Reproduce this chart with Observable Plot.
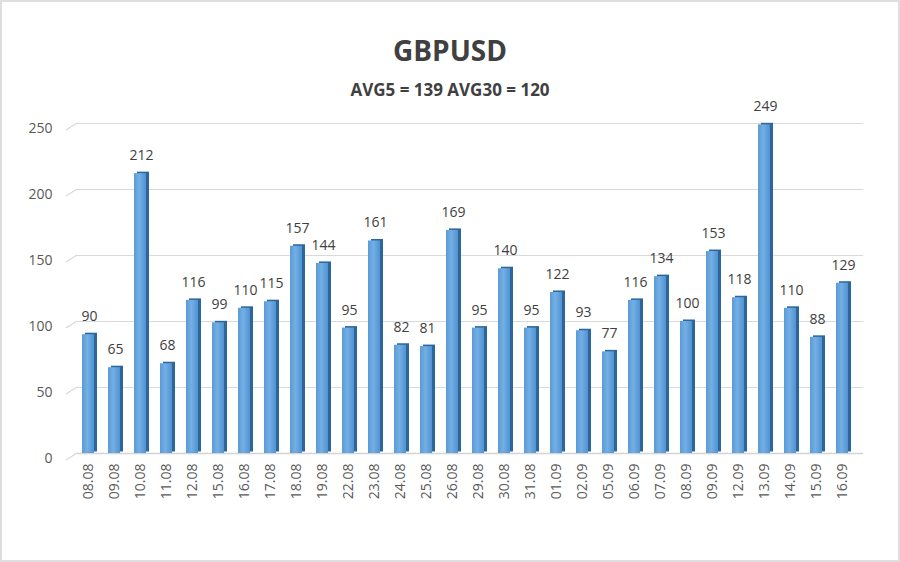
<!DOCTYPE html>
<html>
<head>
<meta charset="utf-8">
<script src="https://cdn.jsdelivr.net/npm/d3@7"></script>
<script src="https://cdn.jsdelivr.net/npm/@observablehq/plot@0.6"></script>
<style>
  html, body { margin: 0; padding: 0; background: #fff; }
  #wrap { position: relative; width: 900px; height: 562px; overflow: hidden; font-family: "Open Sans", sans-serif; }
  #chart { position: absolute; left: 0; top: 0; }
  #title { position: absolute; left: 0; width: 900px; top: 30px; text-align: center; font-size: 28px; font-weight: 700; color: #404040; line-height: 40px; }
  #subtitle { position: absolute; left: 0; width: 900px; top: 78px; text-align: center; font-size: 17px; font-weight: 700; color: #404040; line-height: 24px; }
  #border { position: absolute; left: 0; top: 0; width: 900px; height: 562px; box-sizing: border-box; border: 2px solid #dedede; pointer-events: none; }
</style>
</head>
<body>
<div id="wrap">
  <div id="chart"></div>
  <div id="title">GBPUSD</div>
  <div id="subtitle">AVG5 = 139 AVG30 = 120</div>
  <div id="border"></div>
</div>
<script>
const dates = ["08.08","09.08","10.08","11.08","12.08","15.08","16.08","17.08","18.08","19.08","22.08","23.08","24.08","25.08","26.08","29.08","30.08","31.08","01.09","02.09","05.09","06.09","07.09","08.09","09.09","12.09","13.09","14.09","15.09","16.09"];
const values = [90,65,212,68,116,99,110,115,157,144,95,161,82,81,169,95,140,95,122,93,77,116,134,100,153,118,249,110,88,129];
const yTicks = [0,50,100,150,200,250];

const data = dates.map((d, i) => ({date: d, value: values[i]}));

const defs = () => {
  const g = d3.create("svg:defs");
  const lg = g.append("linearGradient").attr("id", "barGrad").attr("x1", "0").attr("x2", "1").attr("y1", "0").attr("y2", "0");
  lg.append("stop").attr("offset", "0%").attr("stop-color", "#5a9bd6");
  lg.append("stop").attr("offset", "45%").attr("stop-color", "#73afe4");
  lg.append("stop").attr("offset", "100%").attr("stop-color", "#5192d0");
  return g.node();
};

// small slanted "3D" segments at the left end of the gridlines, positioned via the y scale
const slants = (index, scales, values, dimensions) => {
  const g = d3.create("svg:g").attr("stroke", "#d9d9d9").attr("stroke-width", 1.2).attr("fill", "none");
  for (const t of yTicks) {
    const yy = scales.y(t);
    g.append("line")
      .attr("x1", dimensions.marginLeft - 6).attr("y1", yy + 7)
      .attr("x2", dimensions.marginLeft + 5).attr("y2", yy);
  }
  return g.node();
};

const chart = Plot.plot({
  width: 900,
  height: 562,
  marginTop: 123,
  marginBottom: 109,
  marginLeft: 72,
  marginRight: 42,
  style: { fontFamily: "Open Sans, sans-serif", fontSize: "14px", color: "#595959", background: "transparent" },
  x: { type: "band", domain: dates, paddingInner: 0.55, paddingOuter: 0.275, label: null },
  y: { domain: [0, 250], label: null },
  marks: [
    defs,
    Plot.ruleY(yTicks.filter(t => t > 0), { stroke: "#d9d9d9", strokeWidth: 1.2, dx: 5 }),
    Plot.ruleY([0], { stroke: "#d4d4d4", strokeWidth: 1.5, dx: 5 }),
    slants,
    Plot.axisY(yTicks, { tickSize: 0, tickPadding: 20, dy: 5, fontSize: 14, fill: "#595959", label: null }),
    Plot.axisX({ tickSize: 0, tickRotate: -90, tickPadding: 10, fontSize: 14, fill: "#595959", label: null }),
    // side face (dark) for 3D look
    Plot.barY(data, { x: "date", y: "value", fill: "#2c679c", dx: 3, dy: -1.5 }),
    // front face
    Plot.barY(data, { x: "date", y: "value", fill: "url(#barGrad)" }),
    Plot.text(data, { x: "date", y: "value", text: d => String(d.value), dy: -18, dx: 1, fontSize: 14, fill: "#404040" })
  ]
});
document.getElementById("chart").appendChild(chart);
</script>
</body>
</html>
